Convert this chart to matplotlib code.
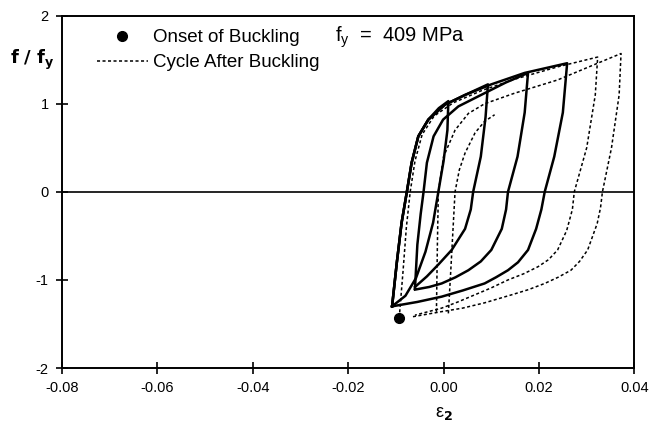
import matplotlib
matplotlib.use("Agg")
import matplotlib.pyplot as plt
from matplotlib.lines import Line2D

plt.rcParams['font.family'] = ['Liberation Sans', 'DejaVu Sans']
plt.rcParams['axes.unicode_minus'] = False

# ---- data (strain eps2, stress ratio f/fy) ----
# solid loops (before buckling)
loop1_x = [-0.0108, -0.0098, -0.0088, -0.0077, -0.0067, -0.0053, -0.0032, -0.0010, 0.0010,
           0.0008, 0.0000, -0.0011, -0.0022, -0.0038, -0.0058, -0.0080, -0.0108]
loop1_y = [-1.30, -0.80, -0.35, 0.00, 0.33, 0.63, 0.82, 0.95, 1.03,
           0.70, 0.35, 0.00, -0.35, -0.68, -0.98, -1.18, -1.30]

loop2_x = [-0.0108, -0.0098, -0.0088, -0.0077, -0.0067, -0.0053, -0.0032, 0.0003, 0.0045, 0.0093,
           0.0088, 0.0078, 0.0062, 0.0057, 0.0045, 0.0017, -0.0010, -0.0035, -0.0060]
loop2_y = [-1.30, -0.80, -0.35, 0.00, 0.33, 0.63, 0.82, 0.99, 1.10, 1.22,
           0.85, 0.40, 0.00, -0.20, -0.42, -0.66, -0.82, -0.96, -1.08]

loop3_x = [-0.0060, -0.0055, -0.0048, -0.0042, -0.0035, -0.0021, -0.0001, 0.0031, 0.0086, 0.0130, 0.0177,
           0.0170, 0.0155, 0.0135, 0.0131, 0.0122, 0.0100, 0.0078, 0.0052, 0.0025, -0.0004, -0.0030, -0.0060]
loop3_y = [-1.10, -0.60, -0.25, 0.00, 0.33, 0.63, 0.82, 0.97, 1.12, 1.24, 1.35,
           0.90, 0.40, 0.00, -0.20, -0.42, -0.66, -0.79, -0.89, -0.97, -1.04, -1.08, -1.11]

loop4_x = [-0.0108, -0.0098, -0.0088, -0.0077, -0.0067, -0.0053, -0.0032, 0.0003, 0.0045, 0.0100, 0.0170, 0.0259,
           0.0250, 0.0232, 0.0212, 0.0205, 0.0194, 0.0177, 0.0156, 0.0135, 0.0110, 0.0086, 0.0040, -0.0004,
           -0.0055, -0.0108]
loop4_y = [-1.30, -0.80, -0.35, 0.00, 0.33, 0.63, 0.82, 0.99, 1.10, 1.22, 1.35, 1.46,
           0.90, 0.40, 0.00, -0.20, -0.42, -0.66, -0.80, -0.89, -0.97, -1.04, -1.12, -1.19,
           -1.25, -1.30]

# dotted cycles (after buckling)
loop5_x = [-0.0093, -0.0085, -0.0078, -0.0070, -0.0060, -0.0045, -0.0020, 0.0020, 0.0080, 0.0150, 0.0240, 0.0323,
           0.0318, 0.0300, 0.0274, 0.0270, 0.0258, 0.0239, 0.0220, 0.0198, 0.0168, 0.0135, 0.0100, 0.0065,
           0.0030, -0.0004, -0.0060]
loop5_y = [-1.43, -0.90, -0.40, 0.00, 0.35, 0.65, 0.86, 1.01, 1.15, 1.28, 1.42, 1.53,
           1.10, 0.50, 0.00, -0.20, -0.44, -0.66, -0.77, -0.85, -0.93, -1.00, -1.09, -1.17,
           -1.25, -1.32, -1.40]

loop6_x = [-0.0015, -0.0013, -0.0011, 0.0000, 0.0024, 0.0052, 0.0086, 0.0149, 0.0239, 0.0323, 0.0372,
           0.0368, 0.0352, 0.0333, 0.0329, 0.0322, 0.0302, 0.0285, 0.0267, 0.0240, 0.0212, 0.0178, 0.0142,
           0.0086, 0.0040, -0.0004, -0.0067]
loop6_y = [-1.36, -0.60, 0.00, 0.40, 0.70, 0.89, 1.00, 1.12, 1.27, 1.46, 1.57,
           1.10, 0.50, 0.00, -0.18, -0.36, -0.66, -0.79, -0.89, -0.97, -1.04, -1.11, -1.17,
           -1.26, -1.32, -1.36, -1.42]

loop7_x = [0.0010, 0.0015, 0.0020, 0.0024, 0.0033, 0.0045, 0.0066, 0.0086, 0.0107]
loop7_y = [-1.38, -0.90, -0.40, 0.00, 0.25, 0.44, 0.67, 0.80, 0.875]

onset_x = [-0.0093]
onset_y = [-1.43]

x_ticks = [-0.08, -0.06, -0.04, -0.02, 0.00, 0.02, 0.04]
x_ticklabels = ['-0.08', '-0.06', '-0.04', '-0.02', '0.00', '0.02', '0.04']
y_ticks = [-2, -1, 0, 1, 2]

# ---- figure ----
fig = plt.figure(figsize=(6.49, 4.23), dpi=100)
ax = fig.add_axes([0.0955, 0.130, 0.882, 0.833])

solid_kw = dict(color='black', lw=1.8, solid_joinstyle='round')
dot_kw = dict(color='black', lw=1.1, linestyle=(0, (2.0, 1.6)))

for xs, ys in [(loop1_x, loop1_y), (loop2_x, loop2_y), (loop3_x, loop3_y), (loop4_x, loop4_y)]:
    ax.plot(xs, ys, **solid_kw)
for xs, ys in [(loop5_x, loop5_y), (loop6_x, loop6_y), (loop7_x, loop7_y)]:
    ax.plot(xs, ys, **dot_kw)

ax.plot(onset_x, onset_y, 'o', color='black', ms=7)

ax.axhline(0, color='black', lw=1.2)

ax.set_xlim(-0.08, 0.04)
ax.set_ylim(-2, 2)
ax.set_xticks(x_ticks)
ax.set_xticklabels(x_ticklabels)
ax.set_yticks(y_ticks)
ax.tick_params(direction='inout', length=9, width=1.2, labelsize=10.5, pad=5)
for s in ax.spines.values():
    s.set_linewidth(1.4)

# labels
fig.text(0.015, 0.858, r'$\mathbf{f\ /\ f_y}$', fontsize=13, fontweight='bold',
         ha='left', va='center')
ax.text(0.0, -2.52, r'$\mathregular{\varepsilon}_\mathbf{2}$', fontsize=13,
        ha='center', va='center')

ax.text(-0.0228, 1.76, r'f$_\mathregular{y}$  =  409 MPa', fontsize=14.5, ha='left', va='center')

handles = [Line2D([], [], marker='o', color='black', linestyle='none', ms=7),
           Line2D([], [], color='black', lw=1.1, linestyle=(0, (2.0, 1.6)))]
ax.legend(handles, ['Onset of Buckling', 'Cycle After Buckling'], loc='upper left',
          bbox_to_anchor=(0.061, 0.962), frameon=False, fontsize=13.5, handlelength=2.7,
          handletextpad=0.27, labelspacing=0.42, borderaxespad=0, borderpad=0)

fig.savefig('out.png', dpi=100)
